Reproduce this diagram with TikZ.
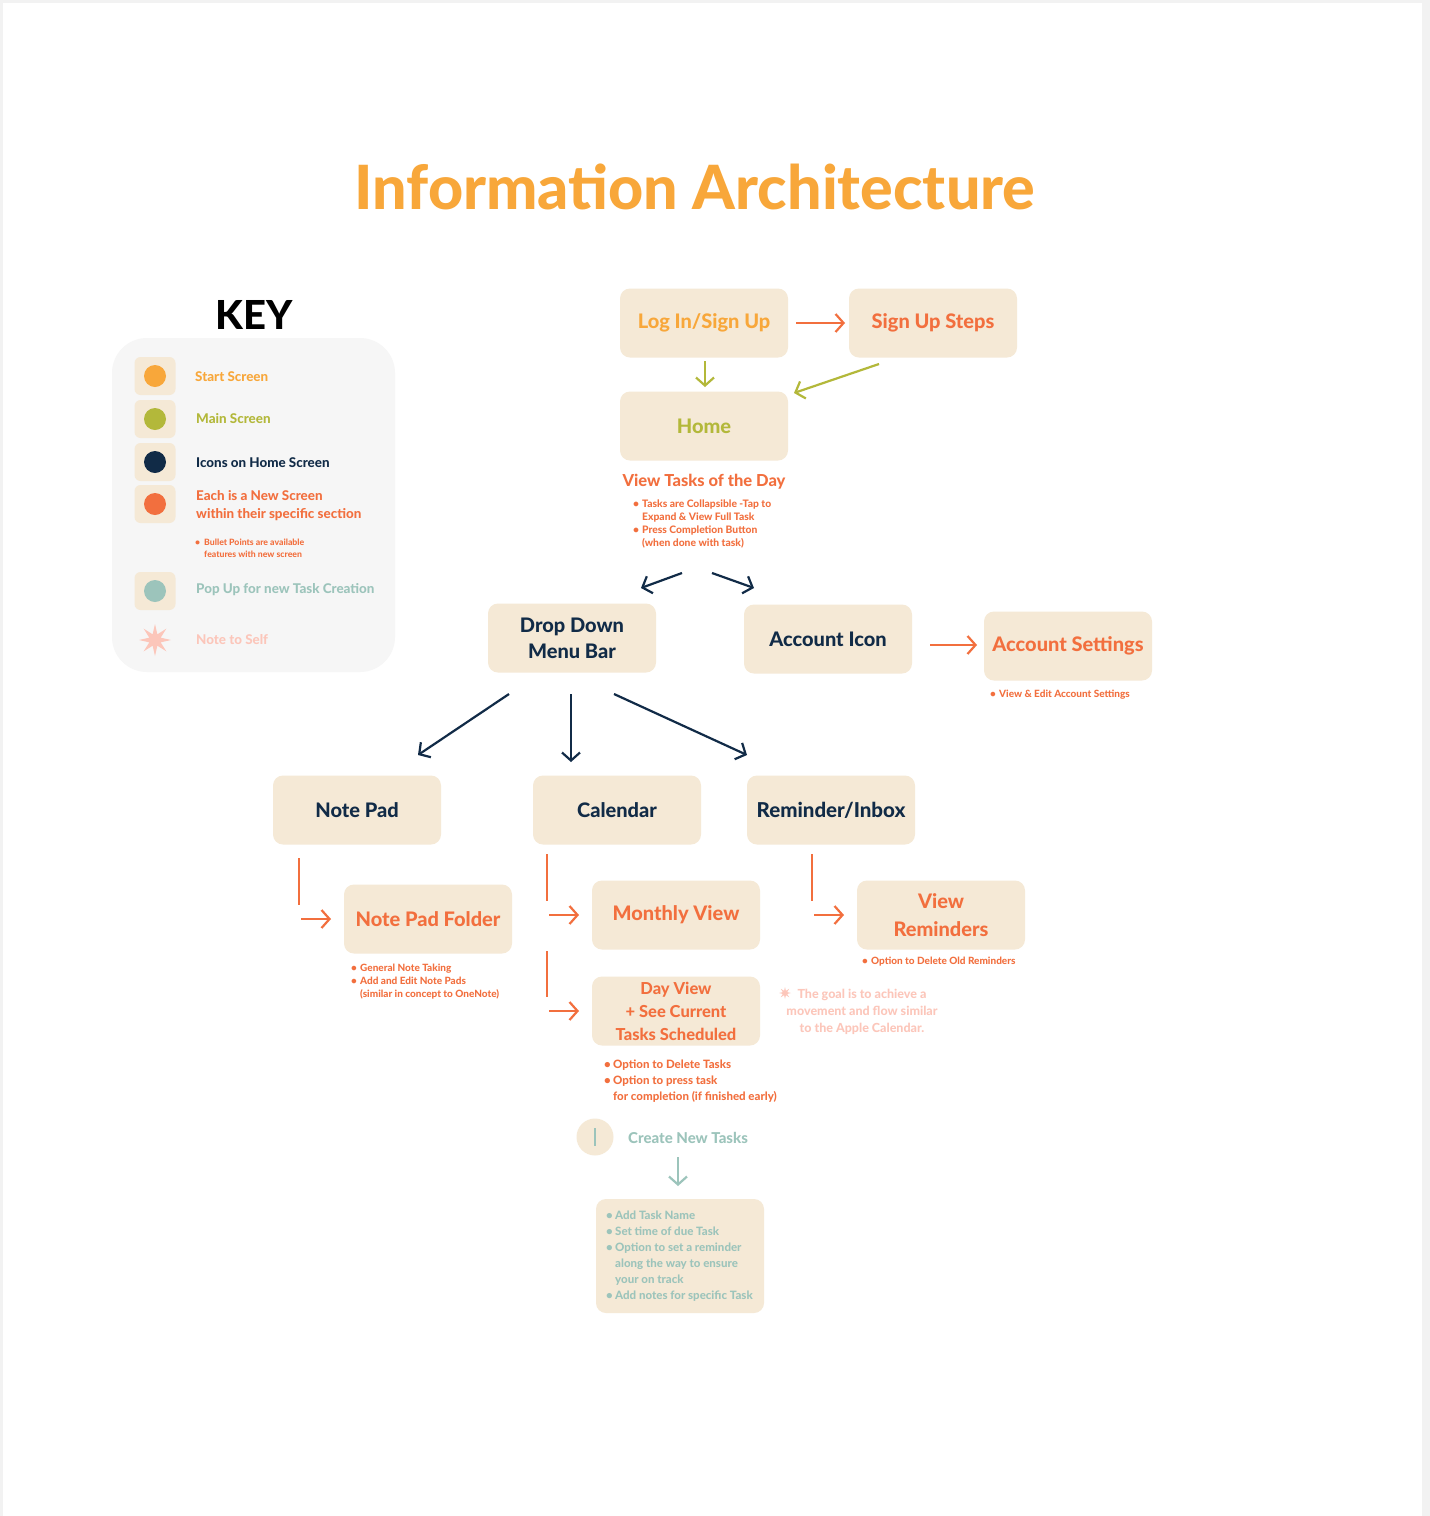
\documentclass[tikz,border=0pt]{standalone}
\usepackage{fontspec}
\setmainfont{Lato}[BoldFont={Lato Heavy}]
\usetikzlibrary{arrows.meta,shapes.geometric}
\definecolor{cOrange}{HTML}{F8A73A}
\definecolor{cOlive}{HTML}{B3B83A}
\definecolor{cNavy}{HTML}{112B47}
\definecolor{cRed}{HTML}{F26F3E}
\definecolor{cTeal}{HTML}{9CC4BB}
\definecolor{cPink}{HTML}{FCC6BA}
\definecolor{cBox}{HTML}{F5E9D6}
\definecolor{cKey}{HTML}{F6F6F6}
\definecolor{cFrame}{HTML}{F2F2F2}
\newcommand{\bl}{\makebox[9pt][l]{\textbullet}}
\newcommand{\ind}{\hspace*{9pt}}
\newcommand{\fs}[2]{\fontsize{#1}{#2}\selectfont}
\tikzset{
  box/.style={fill=cBox, rounded corners=10pt, minimum width=168pt, minimum height=69pt, inner sep=0pt, align=center, font=\bfseries\fs{20}{26}},
  navybox/.style={box, text=cNavy, font=\bfseries\fs{20}{26}},
  keybox/.style={fill=cBox, rounded corners=6pt, minimum width=41pt, minimum height=38pt, inner sep=0pt},
  dot/.style={circle, minimum size=22pt, inner sep=0pt},
  lbl/.style={inner sep=0pt, align=left, anchor=west},
  conn/.style={line width=2.2pt, -{Straight Barb[length=8pt,width=18pt]}},
  seg/.style={line width=2.2pt},
  keytext/.style={lbl, font=\bfseries\fs{13.4}{18}},
}
\begin{document}
\begin{tikzpicture}[x=1pt,y=-1pt]
\useasboundingbox (0,0) rectangle (1430,1516);
\fill[cFrame] (0,0) rectangle (1430,1516);
\fill[white] (3,3) rectangle (1422,1516);

% title
\node[inner sep=0pt, text=cOrange, font=\bfseries\fs{61}{70}] (title) at (695,187) {Information Architecture};

% key
\node[inner sep=0pt, font=\bfseries\fs{40}{44}] (keytitle) at (254,315) {KEY};
\node[fill=cKey, rounded corners=35pt, minimum width=283pt, minimum height=334pt, inner sep=0pt] (keypanel) at (253.5,505) {};
\node[keybox] (k1) at (155,376) {};
\node[dot, fill=cOrange] (k1d) at (155,376) {};
\node[keytext, text=cOrange] (k1t) at (195,377) {Start Screen};
\node[keybox] (k2) at (155,419) {};
\node[dot, fill=cOlive] (k2d) at (155,419) {};
\node[keytext, text=cOlive] (k2t) at (196,419) {Main Screen};
\node[keybox] (k3) at (155,462) {};
\node[dot, fill=cNavy] (k3d) at (155,462) {};
\node[keytext, text=cNavy] (k3t) at (196,463) {Icons on Home Screen};
\node[keybox] (k4) at (155,504) {};
\node[dot, fill=cRed] (k4d) at (155,504) {};
\node[keytext, text=cRed] (k4t) at (196,506) {Each is a New Screen\\within their specific section};
\node[lbl, text=cRed, font=\bfseries\fs{8.7}{12}] (k4b) at (195,548) {\bl Bullet Points are available\\\ind features with new screen};
\node[keybox] (k5) at (155,591) {};
\node[dot, fill=cTeal] (k5d) at (155,591) {};
\node[keytext, text=cTeal] (k5t) at (196,590) {Pop Up for new Task Creation};
\node[star, star points=8, star point ratio=2.6, fill=cPink, minimum size=32pt, inner sep=0pt] (k6) at (155,640) {};
\node[keytext, text=cPink] (k6t) at (196,640) {Note to Self};

% top flow
\node[box, text=cOrange] (login) at (704,323) {Log In/Sign Up};
\node[box, text=cRed] (signup) at (933,323) {Sign Up Steps};
\node[box, text=cOlive] (home) at (704,426) {Home};
\coordinate (a1s) at (796,323); \coordinate (a1e) at (845,323);
\draw[conn, cRed] (a1s) -- (a1e);
\coordinate (a2s) at (705,361); \coordinate (a2e) at (705,387);
\draw[conn, cOlive] (a2s) -- (a2e);
\coordinate (a3s) at (879,364); \coordinate (a3e) at (794,393);
\draw[conn, cOlive] (a3s) -- (a3e);

\node[inner sep=0pt, text=cRed, font=\bfseries\fs{16.5}{20}] (vtd) at (704,482) {View Tasks of the Day};
\node[lbl, text=cRed, font=\bfseries\fs{10.3}{13}] (vtdb) at (633,524) {\bl Tasks are Collapsible -Tap to\\\ind Expand \& View Full Task\\\bl Press Completion Button\\\ind (when done with task)};

\coordinate (b1s) at (682,573); \coordinate (b1e) at (641,588);
\draw[conn, cNavy] (b1s) -- (b1e);
\coordinate (b2s) at (712,573); \coordinate (b2e) at (754,588);
\draw[conn, cNavy] (b2s) -- (b2e);

\node[navybox] (menu) at (572,638) {Drop Down\\Menu Bar};
\node[navybox] (account) at (828,639) {Account Icon};
\node[box, text=cRed] (accset) at (1068,646) {Account Settings};
\coordinate (c1s) at (930,645); \coordinate (c1e) at (977,645);
\draw[conn, cRed] (c1s) -- (c1e);
\node[lbl, text=cRed, font=\bfseries\fs{10}{13}] (accb) at (990,695) {\bl View \& Edit Account Settings};

\coordinate (d1s) at (509,694); \coordinate (d1e) at (418,755);
\draw[conn, cNavy] (d1s) -- (d1e);
\coordinate (d2s) at (571,694); \coordinate (d2e) at (571,762);
\draw[conn, cNavy] (d2s) -- (d2e);
\coordinate (d3s) at (614,694); \coordinate (d3e) at (747,755);
\draw[conn, cNavy] (d3s) -- (d3e);

\node[navybox] (notepad) at (357,810) {Note Pad};
\node[navybox] (calendar) at (617,810) {Calendar};
\node[navybox, font=\bfseries\fs{20.5}{26}] (reminder) at (831,810) {Reminder/Inbox};

% note pad branch
\node[box, text=cRed] (npf) at (428,919) {Note Pad Folder};
\coordinate (e1a) at (299,858); \coordinate (e1b) at (299,905);
\draw[seg, cRed] (e1a) -- (e1b);
\coordinate (e1s) at (301,919); \coordinate (e1e) at (331,919);
\draw[conn, cRed] (e1s) -- (e1e);
\node[lbl, text=cRed, font=\bfseries\fs{10}{13}] (npfb) at (351,982) {\bl General Note Taking\\\bl Add and Edit Note Pads\\\ind (similar in concept to OneNote)};

% calendar branch
\node[box, text=cRed] (monthly) at (676,915) {Monthly View};
\node[box, text=cRed, font=\bfseries\fs{16.5}{23}] (dayview) at (676,1011) {Day View\\+ See Current\\Tasks Scheduled};
\coordinate (f1a) at (547,854); \coordinate (f1b) at (547,901);
\draw[seg, cRed] (f1a) -- (f1b);
\coordinate (f1s) at (549,915); \coordinate (f1e) at (579,915);
\draw[conn, cRed] (f1s) -- (f1e);
\coordinate (f2a) at (547,951); \coordinate (f2b) at (547,997);
\draw[seg, cRed] (f2a) -- (f2b);
\coordinate (f2s) at (549,1011); \coordinate (f2e) at (579,1011);
\draw[conn, cRed] (f2s) -- (f2e);
\node[lbl, text=cRed, font=\bfseries\fs{11.5}{16}] (dayb) at (604,1081) {\bl Option to Delete Tasks\\\bl Option to press task\\\ind for completion (if finished early)};

% reminder branch
\node[box, text=cRed, font=\bfseries\fs{20}{28}] (viewrem) at (941,915) {View\\Reminders};
\coordinate (g1a) at (812,854); \coordinate (g1b) at (812,901);
\draw[seg, cRed] (g1a) -- (g1b);
\coordinate (g1s) at (814,915); \coordinate (g1e) at (844,915);
\draw[conn, cRed] (g1s) -- (g1e);
\node[lbl, text=cRed, font=\bfseries\fs{10}{13}] (remb) at (862,962) {\bl Option to Delete Old Reminders};

% note to self
\node[star, star points=8, star point ratio=2.6, fill=cPink, minimum size=12pt, inner sep=0pt] (nstar) at (785,993) {};
\node[inner sep=0pt, align=center, text=cPink, font=\bfseries\fs{12.5}{17}] (note) at (862,1012) {The goal is to achieve a\\movement and flow similar\\to the Apple Calendar.};

% create new tasks
\node[circle, fill=cBox, minimum size=37pt, inner sep=0pt] (cnt) at (595,1137) {};
\coordinate (cnta) at (595,1128); \coordinate (cntb) at (595,1146);
\draw[cTeal, line width=1.2pt] (cnta) -- (cntb);
\node[lbl, text=cTeal, font=\bfseries\fs{15}{18}] (cntt) at (628,1138) {Create New Tasks};
\coordinate (h1s) at (678,1157); \coordinate (h1e) at (678,1186);
\draw[conn, cTeal] (h1s) -- (h1e);
\node[fill=cBox, rounded corners=10pt, minimum width=168pt, minimum height=114pt, inner sep=0pt] (taskbox) at (680,1256) {};
\node[lbl, text=cTeal, font=\bfseries\fs{11.5}{16}] (taskb) at (606,1256) {\bl Add Task Name\\\bl Set time of due Task\\\bl Option to set a reminder\\\ind along the way to ensure\\\ind your on track\\\bl Add notes for specific Task};
\end{tikzpicture}
\end{document}
